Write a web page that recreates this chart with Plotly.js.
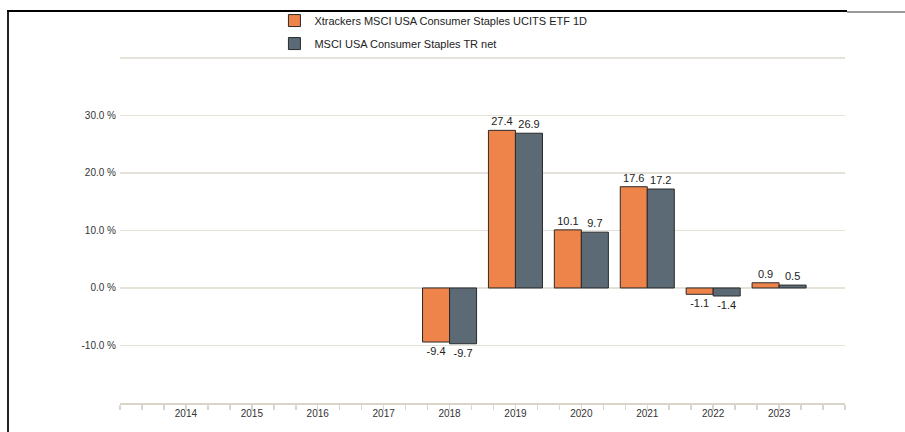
<!DOCTYPE html>
<html>
<head>
<meta charset="utf-8">
<script src="https://cdn.plot.ly/plotly-3.0.1.min.js"></script>
<style>
  html, body { margin: 0; padding: 0; background: #fff; }
  #wrap { position: relative; width: 905px; height: 432px; }
  #chart { position: absolute; left: 0; top: 0; width: 905px; height: 432px; }
  .frame-left { position: absolute; left: 7px; top: 10px; width: 2px; height: 422px; background: #222; }
  .frame-top { position: absolute; left: 7px; top: 10px; width: 840px; height: 1.5px; background: #000; }
  .frame-top-gray { position: absolute; left: 847px; top: 11px; width: 58px; height: 1.5px; background: #999; }
</style>
</head>
<body>
<div id="wrap">
  <div id="chart"></div>
  <div class="frame-left"></div>
  <div class="frame-top"></div>
  <div class="frame-top-gray"></div>
</div>
<script>
const years = [2014, 2015, 2016, 2017, 2018, 2019, 2020, 2021, 2022, 2023];
const etfName = "Xtrackers MSCI USA Consumer Staples UCITS ETF 1D";
const indexName = "MSCI USA Consumer Staples TR net";
const etfValues = [null, null, null, null, -9.4, 27.4, 10.1, 17.6, -1.1, 0.9];
const indexValues = [null, null, null, null, -9.7, 26.9, 9.7, 17.2, -1.4, 0.5];
const yTickVals = [-10, 0, 10, 20, 30, 40];
const yTickText = ["-10.0 %", "0.0 %", "10.0 %", "20.0 %", "30.0 %", ""];

const fmt = v => (v === null ? "" : v.toFixed(1));

const traces = [
  {
    type: "bar", name: etfName, x: years, y: etfValues, legendgroup: "a",
    text: etfValues.map(fmt), textposition: "outside", cliponaxis: false,
    textfont: { family: "Liberation Sans, Arial, sans-serif", size: 11, color: "#222" },
    marker: { color: "#EE844A", line: { color: "#2a2a2a", width: 1 } },
    hoverinfo: "skip"
  },
  {
    type: "bar", name: indexName, x: years, y: indexValues, legendgroup: "b",
    text: indexValues.map(fmt), textposition: "outside", cliponaxis: false,
    textfont: { family: "Liberation Sans, Arial, sans-serif", size: 11, color: "#222" },
    marker: { color: "#5B6A75", line: { color: "#2a2a2a", width: 1 } },
    hoverinfo: "skip"
  }
];

const layout = {
  width: 905, height: 432,
  margin: { l: 120, r: 60, t: 55, b: 29, autoexpand: false },
  paper_bgcolor: "rgba(0,0,0,0)",
  plot_bgcolor: "#fff",
  font: { family: "Liberation Sans, Arial, sans-serif", size: 10, color: "#333" },
  barmode: "group", bargap: 0.18, bargroupgap: 0,
  showlegend: true,
  legend: {
    x: 0.213, y: 0.986, xref: "paper", yref: "container", xanchor: "left", yanchor: "top",
    orientation: "v", traceorder: "grouped", tracegroupgap: 4,
    font: { size: 11, color: "#222" },
    bgcolor: "rgba(0,0,0,0)", itemwidth: 30
  },
  xaxis: {
    type: "linear", range: [years[0] - 1, years[years.length - 1] + 1],
    tickmode: "array", tickvals: years, ticktext: years.map(String),
    ticks: "", showgrid: false, zeroline: false,
    showline: true, linecolor: "#d9d5c9", linewidth: 2,
    tickfont: { size: 10, color: "#333" },
    minor: { tickmode: "linear", tick0: years[0] - 1, dtick: 1 / 3, ticks: "outside", ticklen: 5, tickwidth: 1.5, tickcolor: "#d9d5c9", showgrid: false },
    fixedrange: true
  },
  yaxis: {
    range: [-20, 40.5], tickmode: "array", tickvals: yTickVals, ticktext: yTickText,
    showgrid: true, gridcolor: "#e5e2da", gridwidth: 1.5,
    zeroline: false, showline: false, ticks: "",
    tickfont: { size: 10, color: "#333" }, ticklabelstandoff: 3,
    fixedrange: true
  }
};

Plotly.newPlot("chart", traces, layout, { displayModeBar: false, staticPlot: true });
</script>
</body>
</html>
